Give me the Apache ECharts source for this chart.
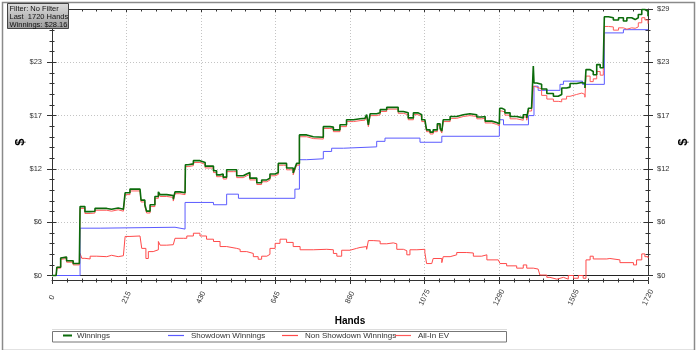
<!DOCTYPE html>
<html>
<head>
<meta charset="utf-8">
<script src="https://cdn.jsdelivr.net/npm/echarts@6/dist/echarts.min.js"></script>
<style>html,body{margin:0;padding:0;background:#fff}#c{width:700px;height:350px}</style>
</head>
<body>
<div id="c"></div>
<script>
// ---- data (hand, $) ----
const seriesNames = ['Winnings', 'Showdown Winnings', 'Non Showdown Winnings', 'All-In EV'];
const yTickLabels = ['$0', '$6', '$12', '$17', '$23', '$29'];
const xTickLabels = ['0', '215', '430', '645', '860', '1075', '1290', '1505', '1720'];
const infoLines = ['Filter: No Filter', 'Last  1720 Hands', 'Winnings: $28.16'];

const winnings = [[0,0],[12,0],[14,0.9],[25,1.9],[28,2.0],[42,1.6],[61,1.3],[79,1.15],[81,7.5],[95,6.95],[110,7.0],[124,7.3],[158,7.2],[172,7.35],[191,7.2],[206,7.2],[211,9.0],[225,9.4],[254,9.4],[257,8.2],[268,7.7],[273,7.0],[283,7.7],[297,8.6],[307,9.1],[312,8.8],[331,8.7],[350,8.3],[355,9.1],[369,9.0],[384,9.0],[385,12.05],[393,12.15],[408,12.5],[427,12.3],[442,11.9],[466,11.4],[475,10.95],[485,11.05],[494,10.7],[504,11.5],[523,11.5],[533,10.85],[552,11.05],[562,11.2],[571,10.6],[591,10.1],[605,10.4],[620,10.6],[629,11.05],[644,11.2],[653,12.2],[668,12.2],[677,11.7],[696,11.15],[701,11.7],[706,12.2],[714,15.3],[735,15.1],[754,15.05],[783,16.2],[802,16.15],[812,15.85],[831,16.4],[850,16.95],[870,17.05],[889,17.1],[903,16.95],[908,17.5],[913,16.4],[918,17.6],[937,17.7],[947,18.05],[966,18.3],[990,18.3],[999,17.85],[1014,17.7],[1028,17.15],[1043,17.7],[1057,17.5],[1067,16.95],[1076,16.8],[1081,15.85],[1091,15.6],[1100,15.85],[1112,16.5],[1120,16.05],[1125,15.7],[1129,16.95],[1149,17.3],[1168,17.5],[1187,17.6],[1206,17.5],[1226,17.25],[1240,17.3],[1250,16.8],[1269,16.65],[1283,16.5],[1291,16.4],[1292,18.2],[1298,18.05],[1307,17.7],[1322,17.3],[1341,17.15],[1360,17.5],[1370,17.15],[1375,18.2],[1384,18.05],[1389,22.8],[1391,20.95],[1399,20.8],[1413,20.3],[1428,19.8],[1447,19.5],[1461,19.7],[1471,20.4],[1485,20.5],[1495,20.9],[1514,21.0],[1529,20.9],[1538,20.4],[1541,22.4],[1553,22.2],[1562,21.85],[1572,22.95],[1582,22.6],[1591,23.1],[1594,28.15],[1606,28.05],[1620,27.8],[1635,28.05],[1649,27.7],[1659,28.05],[1673,27.85],[1683,28.05],[1692,28.4],[1702,28.95],[1711,28.75],[1720,28.2]];

const allInEV = [[0,0],[12,0],[14,0.8],[25,1.75],[28,1.85],[42,1.45],[61,1.15],[79,1.0],[81,7.3],[95,6.75],[110,6.8],[124,7.1],[158,7.0],[172,7.15],[191,7.0],[206,7.0],[211,8.8],[225,9.2],[254,9.2],[257,8.0],[268,7.5],[273,6.8],[283,7.5],[297,8.4],[307,8.9],[312,8.6],[331,8.5],[350,8.1],[355,8.9],[369,8.8],[384,8.8],[385,11.85],[393,11.95],[408,12.3],[427,12.1],[442,11.7],[466,11.2],[475,10.75],[485,10.85],[494,10.5],[504,11.3],[523,11.3],[533,10.65],[552,10.85],[562,11.0],[571,10.4],[591,9.9],[605,10.2],[620,10.4],[629,10.85],[644,11.0],[653,12.0],[668,12.0],[677,11.5],[696,10.95],[701,11.5],[706,12.0],[714,15.1],[735,14.9],[754,14.85],[783,16.0],[802,15.95],[812,15.65],[831,16.2],[850,16.75],[870,16.85],[889,16.9],[903,16.75],[908,17.3],[913,16.2],[918,17.4],[937,17.5],[947,17.85],[966,18.1],[990,18.1],[999,17.65],[1014,17.5],[1028,16.95],[1043,17.5],[1057,17.3],[1067,16.75],[1076,16.6],[1081,15.65],[1091,15.4],[1100,15.65],[1112,16.3],[1120,15.85],[1125,15.5],[1129,16.75],[1149,17.1],[1168,17.3],[1187,17.4],[1206,17.3],[1226,17.05],[1240,17.1],[1250,16.6],[1269,16.45],[1283,16.3],[1291,16.2],[1292,17.9],[1298,17.8],[1307,17.45],[1322,17.05],[1341,16.9],[1360,17.25],[1370,16.9],[1375,17.9],[1384,17.8],[1389,20.6],[1391,20.5],[1399,20.3],[1413,19.6],[1428,19.2],[1447,18.95],[1461,18.9],[1471,19.2],[1485,19.5],[1495,19.7],[1514,19.85],[1529,19.7],[1538,19.4],[1541,21.7],[1553,21.1],[1562,21.4],[1572,22.2],[1582,21.8],[1591,22.3],[1594,27.1],[1606,27.05],[1620,26.7],[1635,26.95],[1649,26.8],[1659,26.95],[1673,26.9],[1683,27.05],[1692,27.5],[1702,28.05],[1711,27.8],[1720,27.4]];

const showdown = [[0,0],[81,5.15],[139,5.25],[355,5.05],[384,7.95],[466,7.7],[504,8.85],[538,8.4],[701,9.4],[714,12.6],[735,12.7],[783,13.5],[807,13.85],[841,14.0],[937,14.6],[961,14.95],[1062,14.5],[1125,15.15],[1291,16.95],[1303,16.4],[1375,17.4],[1391,20.6],[1403,20.15],[1466,20.8],[1476,21.15],[1531,20.8],[1594,26.4],[1649,26.75],[1720,26.7]];

const nonShowdown = [[0,0],[12,0],[14,0.9],[25,1.9],[28,2.0],[42,1.6],[61,1.3],[79,1.15],[81,2.4],[86,1.87],[95,1.8],[110,2.1],[129,2.05],[158,2.2],[172,2.05],[191,2.15],[206,2.05],[211,4.25],[225,4.3],[254,4.25],[259,2.95],[271,1.85],[278,2.6],[292,2.8],[307,3.7],[312,3.3],[331,3.35],[350,3.15],[355,4.05],[379,4.05],[389,4.3],[408,4.6],[427,4.3],[446,3.95],[466,3.7],[485,3.15],[504,2.95],[533,2.85],[543,2.6],[562,2.4],[581,2.05],[595,1.77],[605,2.1],[620,2.3],[629,2.95],[644,3.5],[658,3.95],[677,3.6],[696,3.15],[716,2.8],[754,2.85],[793,2.8],[812,2.4],[822,2.1],[836,2.75],[860,2.95],[879,3.05],[889,3.15],[908,2.85],[913,3.8],[927,3.75],[947,3.45],[966,3.55],[985,3.45],[995,2.85],[1014,2.7],[1024,2.25],[1033,2.8],[1053,2.85],[1076,2.5],[1081,1.3],[1096,1.25],[1100,1.85],[1125,1.4],[1129,2.05],[1149,2.25],[1168,2.5],[1197,2.45],[1216,2.1],[1240,2.0],[1245,2.25],[1255,1.7],[1288,1.5],[1293,1.3],[1312,1.05],[1341,0.8],[1360,1.15],[1370,0.8],[1389,0.7],[1403,0.65],[1408,0.05],[1428,-0.2],[1437,-0.4],[1457,-0.5],[1461,-0.2],[1476,-0.4],[1490,0.0],[1505,-0.3],[1519,0.0],[1533,-0.3],[1541,1.7],[1553,2.1],[1562,1.8],[1601,1.85],[1610,1.7],[1639,1.4],[1678,1.15],[1687,1.7],[1702,2.35],[1711,2.05],[1720,1.9]];

// ---- chart ----
const FONT = 'Liberation Sans, Arial, sans-serif';
const X_MAX = 1720, X_STEP = 215, Y_MAX = 29, Y_STEP = 5.8;
const colors = {win: '#0b6b0b', sd: '#5b5bff', nsd: '#ff4a4a', ev: '#ff5a5a'};

function xLabel(v) { const i = Math.round(v / X_STEP); return xTickLabels[i] !== undefined ? xTickLabels[i] : ''; }
function yLabel(v) { const i = Math.round(v / Y_STEP); return yTickLabels[i] !== undefined ? yTickLabels[i] : ''; }

const baseX = {type: 'value', min: 0, max: X_MAX, interval: X_STEP, gridIndex: 0};
const baseY = {type: 'value', min: 0, max: Y_MAX, interval: Y_STEP, gridIndex: 0};

// one legend component per entry, evenly spaced like the reference
const legendLeft = [63, 168, 282, 395];
const legendIconW = [9, 16, 16, 16];
const legendTextPad = [0, 2, 2, 2];
const legends = seriesNames.map(function (n, i) {
  return {
    show: true, left: legendLeft[i], top: 331.5, padding: 0,
    itemWidth: legendIconW[i], itemHeight: i === 0 ? 2 : 1.2, itemGap: 0,
    icon: 'rect', selectedMode: false,
    textStyle: {fontFamily: FONT, fontSize: 8, color: '#333', padding: [0, 0, 0, legendTextPad[i]]},
    data: [n]
  };
});

const chart = echarts.init(document.getElementById('c'), null, {renderer: 'canvas'});
chart.setOption({
  animation: false,
  backgroundColor: '#ffffff',
  grid: {left: 52, right: 52, top: 9, bottom: 74.5, containLabel: false},
  xAxis: [
    Object.assign({}, baseX, {
      position: 'bottom', offset: 5,
      name: 'Hands', nameLocation: 'middle', nameGap: 36,
      nameTextStyle: {fontFamily: FONT, fontSize: 10, fontWeight: 'bold', color: '#000'},
      axisLine: {show: true, onZero: false, lineStyle: {color: '#333', width: 1}},
      axisTick: {show: true, inside: false, length: 3.5, lineStyle: {color: '#333'}},
      minorTick: {show: true, splitNumber: 5, length: 2, lineStyle: {color: '#333'}},
      axisLabel: {show: true, rotate: 65, align: 'center', verticalAlign: 'middle', margin: 17,
        fontFamily: FONT, fontSize: 7.5, color: '#333', formatter: xLabel},
      splitLine: {show: true, lineStyle: {color: '#c4c4c4', type: [1, 2], width: 1}}
    }),
    Object.assign({}, baseX, {
      position: 'bottom', offset: 5,
      axisLine: {show: false, onZero: false},
      axisTick: {show: true, inside: true, length: 3.5, lineStyle: {color: '#333'}},
      minorTick: {show: true, splitNumber: 5, length: 2, lineStyle: {color: '#333'}},
      axisLabel: {show: false}, splitLine: {show: false}
    }),
    Object.assign({}, baseX, {
      position: 'bottom', offset: 0,
      axisLine: {show: true, onZero: false, lineStyle: {color: '#222', width: 1}},
      axisTick: {show: false}, minorTick: {show: false},
      axisLabel: {show: false}, splitLine: {show: false}
    }),
    Object.assign({}, baseX, {
      position: 'top',
      axisLine: {show: true, onZero: false, lineStyle: {color: '#333', width: 1}},
      axisTick: {show: true, inside: true, length: 3, lineStyle: {color: '#333'}},
      minorTick: {show: true, splitNumber: 5, length: 2.5, lineStyle: {color: '#333'}},
      axisLabel: {show: false}, splitLine: {show: false}
    })
  ],
  yAxis: [
    Object.assign({}, baseY, {
      position: 'left',
      name: '$', nameLocation: 'middle', nameGap: 25, nameRotate: 90, nameMoveOverlap: false,
      nameTextStyle: {fontFamily: FONT, fontSize: 13, fontWeight: 'bold', color: '#000'},
      axisLine: {show: true, onZero: false, lineStyle: {color: '#333', width: 1}},
      axisTick: {show: true, inside: false, length: 5, lineStyle: {color: '#333'}},
      minorTick: {show: true, splitNumber: 5, length: 2.5, lineStyle: {color: '#333'}},
      axisLabel: {show: true, margin: 10, fontFamily: FONT, fontSize: 7.5, color: '#333', formatter: yLabel},
      splitLine: {show: true, lineStyle: {color: '#c4c4c4', type: [1, 2], width: 1}}
    }),
    Object.assign({}, baseY, {
      position: 'left',
      axisLine: {show: false, onZero: false},
      axisTick: {show: true, inside: true, length: 4.5, lineStyle: {color: '#333'}},
      minorTick: {show: true, splitNumber: 5, length: 2.5, lineStyle: {color: '#333'}},
      axisLabel: {show: false}, splitLine: {show: false}
    }),
    Object.assign({}, baseY, {
      position: 'right',
      name: '$', nameLocation: 'middle', nameGap: 29, nameRotate: 90, nameMoveOverlap: false,
      nameTextStyle: {fontFamily: FONT, fontSize: 13, fontWeight: 'bold', color: '#000'},
      axisLine: {show: true, onZero: false, lineStyle: {color: '#333', width: 1}},
      axisTick: {show: true, inside: false, length: 5, lineStyle: {color: '#333'}},
      minorTick: {show: true, splitNumber: 5, length: 2.5, lineStyle: {color: '#333'}},
      axisLabel: {show: true, margin: 9, fontFamily: FONT, fontSize: 7.5, color: '#333', formatter: yLabel},
      splitLine: {show: false}
    }),
    Object.assign({}, baseY, {
      position: 'right',
      axisLine: {show: false, onZero: false},
      axisTick: {show: true, inside: true, length: 4.5, lineStyle: {color: '#333'}},
      minorTick: {show: true, splitNumber: 5, length: 2.5, lineStyle: {color: '#333'}},
      axisLabel: {show: false}, splitLine: {show: false}
    })
  ],
  legend: legends,
  graphic: [
    {type: 'rect', left: 0, top: 0, z: 100, silent: true,
      shape: {x: 0, y: 0, width: 692, height: 348},
      style: {fill: 'none', stroke: '#8a8a8a', lineWidth: 1.5}},
    {type: 'line', z: 100, silent: true,
      shape: {x1: 52, y1: 329.5, x2: 507, y2: 329.5},
      style: {stroke: '#dcdcdc', lineWidth: 1}},
    {type: 'rect', z: 100, silent: true,
      shape: {x: 52.5, y: 331.5, width: 454, height: 10.5},
      style: {fill: 'none', stroke: '#777', lineWidth: 1}},
    {type: 'rect', z: 200, zlevel: 1, silent: true,
      shape: {x: 7.5, y: 3.5, width: 61, height: 25},
      style: {fill: new echarts.graphic.LinearGradient(0, 0, 0, 1, [
        {offset: 0, color: '#dedede'}, {offset: 1, color: '#9a9a9a'}]),
        stroke: '#444', lineWidth: 1}},
    {type: 'text', z: 201, zlevel: 1, silent: true, x: 9.5, y: 5,
      style: {text: infoLines.join('\n'), fontFamily: FONT, fontSize: 7.5, lineHeight: 8, fill: '#111'}}
  ],
  series: [
    {name: seriesNames[2], type: 'line', step: 'end', data: nonShowdown, showSymbol: false, symbol: 'none',
      clip: false, color: colors.nsd, lineStyle: {width: 1, color: colors.nsd}, z: 2},
    {name: seriesNames[1], type: 'line', step: 'end', data: showdown, showSymbol: false, symbol: 'none',
      clip: false, color: colors.sd, lineStyle: {width: 1, color: colors.sd}, z: 3},
    {name: seriesNames[3], type: 'line', step: 'end', data: allInEV, showSymbol: false, symbol: 'none',
      clip: false, color: colors.ev, lineStyle: {width: 1, color: colors.ev}, z: 4},
    {name: seriesNames[0], type: 'line', step: 'end', data: winnings, showSymbol: false, symbol: 'none',
      clip: false, color: colors.win, lineStyle: {width: 1.6, color: colors.win}, z: 5}
  ]
});
</script>
</body>
</html>
